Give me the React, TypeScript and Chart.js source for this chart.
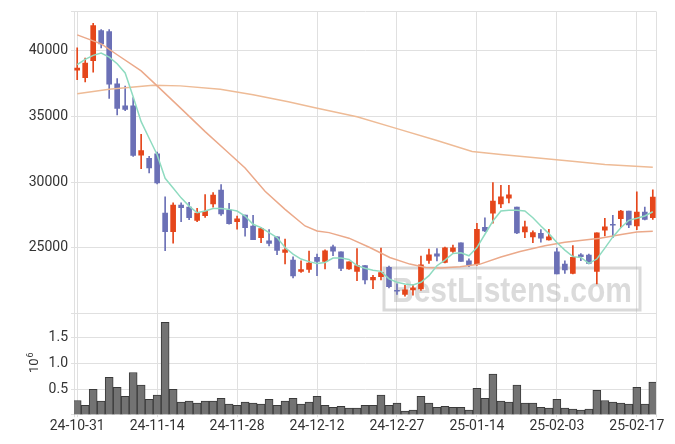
import React, { useEffect, useRef } from 'react';
import { Chart, registerables } from 'chart.js';

Chart.register(...registerables);

// x tick positions (candle index) and their labels
const tickIdx = [0, 10, 20, 30, 40, 50, 60, 70];
const tickLabels = ['24-10-31', '24-11-14', '24-11-28', '24-12-12', '24-12-27', '25-01-14', '25-02-03', '25-02-17'];

// OHLC per trading day
const openP = [38520, 37958, 39244, 41543, 41467, 37481, 35817, 35817, 32058, 31808, 32164, 27648, 26233, 28253, 28102, 27096, 27444, 28352, 29388, 27875, 26990, 27497, 26664, 25780, 25530, 25833, 24645, 24070, 23208, 23359, 24267, 23964, 25077, 24698, 23389, 23208, 23639, 22557, 22807, 23510, 21770, 21446, 21800, 21877, 24040, 24547, 23888, 24721, 25379, 24017, 23714, 26566, 27648, 28351, 28782, 28102, 26210, 25833, 26112, 25606, 24698, 23767, 23056, 24470, 24448, 23208, 26339, 26794, 27217, 27800, 26664, 27724, 27293];
const highP = [40227, 39448, 42095, 41619, 41619, 37882, 37307, 36445, 33646, 31960, 32285, 28881, 28427, 28427, 28457, 28003, 29063, 29213, 29819, 28381, 27421, 27497, 27474, 26536, 26385, 25833, 25659, 24320, 24017, 24751, 24524, 24849, 25205, 24698, 23942, 24948, 23639, 22905, 24978, 23616, 22254, 22149, 22179, 24373, 24902, 24948, 25053, 25205, 25379, 24168, 26869, 27292, 29970, 29766, 29766, 28102, 27043, 26286, 26385, 26415, 24978, 24017, 25174, 24570, 24524, 26135, 27246, 27474, 27852, 27800, 29259, 28102, 29410];
const lowP = [37806, 37632, 38366, 40227, 36369, 35114, 35439, 31960, 31029, 30696, 29864, 24774, 25356, 26990, 27141, 26990, 27322, 28102, 27474, 26793, 26415, 25886, 25628, 25401, 25152, 24471, 23768, 22708, 23132, 23132, 22882, 23389, 24395, 23261, 23359, 22504, 22254, 21899, 22557, 21951, 21446, 21317, 21392, 21748, 23812, 23996, 23842, 24645, 23964, 23563, 23661, 26233, 26869, 28049, 28427, 26082, 25780, 25401, 25432, 25583, 23010, 23056, 23010, 24017, 23767, 22254, 25909, 25780, 26536, 26536, 26385, 27119, 27170];
const closeP = [38690, 39070, 41921, 40530, 37458, 35613, 35537, 32035, 32413, 31075, 29940, 26233, 28253, 28049, 27292, 27648, 27777, 29010, 27572, 26839, 27217, 26536, 25628, 26460, 25326, 24797, 24849, 22860, 23336, 23844, 23964, 24774, 24751, 23434, 23942, 23639, 22557, 22754, 23109, 22050, 21695, 21800, 21952, 23714, 24470, 24373, 25000, 25000, 23964, 23714, 26415, 26286, 28556, 28881, 29032, 26135, 26589, 26158, 25734, 25833, 23010, 23314, 24267, 24320, 23812, 26135, 26589, 26720, 27800, 26740, 27724, 27170, 28858];

// volume in millions
const volume = [0.30, 0.21, 0.51, 0.29, 0.74, 0.55, 0.38, 0.83, 0.59, 0.32, 0.40, 1.78, 0.51, 0.27, 0.29, 0.25, 0.29, 0.29, 0.34, 0.23, 0.21, 0.27, 0.25, 0.23, 0.32, 0.21, 0.29, 0.34, 0.23, 0.27, 0.38, 0.21, 0.17, 0.19, 0.155, 0.155, 0.21, 0.21, 0.40, 0.21, 0.25, 0.10, 0.12, 0.38, 0.25, 0.17, 0.19, 0.17, 0.17, 0.12, 0.53, 0.34, 0.80, 0.29, 0.27, 0.59, 0.25, 0.25, 0.17, 0.155, 0.32, 0.155, 0.135, 0.12, 0.135, 0.49, 0.30, 0.27, 0.25, 0.23, 0.55, 0.23, 0.65];

// short moving average (one value per candle)
const maShort = [38941, 39349, 39652, 39826, 39523, 39017, 38313, 36498, 34607, 33344, 32089, 30290, 29562, 28805, 28177, 27671, 27800, 27990, 28003, 27928, 27800, 27421, 26794, 26536, 26158, 25780, 25023, 24524, 24146, 23950, 23813, 23888, 24222, 24222, 24116, 23640, 23450, 23290, 23208, 22633, 22376, 22254, 22179, 22376, 22882, 23640, 24070, 24570, 24620, 24395, 25023, 26033, 27043, 27800, 27852, 27852, 27800, 27292, 26665, 26082, 25401, 24827, 24330, 24267, 23813, 24146, 24978, 25833, 26536, 27094, 27246, 27421, 27747];

// medium moving average, read at these positions
const maMidIdx = [0, 3, 5, 8, 10, 13, 16, 18.5, 21, 23.5, 26, 28.5, 30, 31.5, 34, 36.6, 39.1, 41.6, 43.6, 45.5, 47.9, 50.4, 53, 55.4, 58.5, 61, 65.4, 68.25, 70, 72];
const maMidVal = [41210, 40530, 39700, 38470, 37330, 35600, 33850, 32466, 31075, 29312, 27928, 26665, 26286, 26158, 25734, 25023, 24267, 23762, 23510, 23465, 23560, 23762, 24300, 24720, 25152, 25430, 25734, 26033, 26210, 26270];

// long moving average, read at these positions
const maLongIdx = [0, 4, 9.5, 12.9, 17.9, 22, 26.4, 29.75, 35, 40, 45, 49.4, 53, 57, 62.25, 66, 72];
const maLongVal = [36725, 37080, 37383, 37330, 37080, 36650, 36120, 35666, 34978, 34076, 33170, 32340, 32110, 31885, 31576, 31350, 31140];

const UP = '#e5461b';
const DOWN = '#6b70b6';
const GRID = '#e0e0e0';
const TEXT = '#333';

export default function App() {
  const ref = useRef<HTMLCanvasElement>(null);

  useEffect(() => {
    if (!ref.current) return;
    const colors = openP.map((o, i) => (closeP[i] >= o ? UP : DOWN));
    const bodies = openP.map((o, i) => ({ x: i, y: [o, closeP[i]] }));
    const wicks = lowP.map((l, i) => ({ x: i, y: [l, highP[i]] }));
    const vols = volume.map((v, i) => ({ x: i, y: v }));
    const shortPts = maShort.map((v, i) => ({ x: i, y: v }));
    const midPts = maMidIdx.map((x, i) => ({ x, y: maMidVal[i] }));
    const longPts = maLongIdx.map((x, i) => ({ x, y: maLongVal[i] }));

    const watermark = {
      id: 'watermark',
      beforeDatasetsDraw(chart: any) {
        const ctx = chart.ctx;
        ctx.save();
        ctx.strokeStyle = 'rgba(170,170,170,0.45)';
        ctx.lineWidth = 3;
        ctx.strokeRect(384, 268, 256, 42);
        ctx.font = 'bold 35px "Liberation Sans", Arial, sans-serif';
        const txt = 'BestListens.com';
        const w = ctx.measureText(txt).width;
        const target = 240;
        ctx.translate(512, 302);
        ctx.scale(target / w, 1);
        ctx.fillStyle = 'rgba(165,165,165,0.4)';
        ctx.textAlign = 'center';
        ctx.textBaseline = 'alphabetic';
        ctx.fillText(txt, 0, 0);
        ctx.restore();
      },
    };

    const volTitle = {
      id: 'volTitle',
      afterDraw(chart: any) {
        const ctx = chart.ctx;
        ctx.save();
        ctx.translate(38, 373);
        ctx.rotate(-Math.PI / 2);
        ctx.fillStyle = TEXT;
        ctx.textAlign = 'left';
        ctx.textBaseline = 'alphabetic';
        ctx.font = '13px Roboto';
        ctx.fillText('10', 0, 0);
        const w = ctx.measureText('10').width;
        ctx.font = '9px Roboto';
        ctx.fillText('6', w + 1, -5);
        ctx.restore();
      },
    };

    const tickFont = { family: 'Roboto', size: 14 };

    const chart = new Chart(ref.current, {
      type: 'bar',
      data: {
        datasets: [
          { type: 'line', data: shortPts, yAxisID: 'y', borderColor: '#8fdbc0', borderWidth: 1.5, pointRadius: 0, tension: 0 } as any,
          { type: 'line', data: midPts, yAxisID: 'y', borderColor: '#eba98a', borderWidth: 1.5, pointRadius: 0, tension: 0 } as any,
          { type: 'line', data: longPts, yAxisID: 'y', borderColor: '#eebb96', borderWidth: 1.5, pointRadius: 0, tension: 0 } as any,
          { type: 'bar', data: bodies, yAxisID: 'y', backgroundColor: colors, borderWidth: 0, barThickness: 5, grouped: false } as any,
          { type: 'bar', data: wicks, yAxisID: 'y', backgroundColor: colors, borderWidth: 0, barThickness: 1, grouped: false } as any,
          { type: 'bar', data: vols, yAxisID: 'yVol', backgroundColor: '#737373', borderColor: '#3a3a3a', borderWidth: 1, barThickness: 8, grouped: false } as any,
        ],
      },
      options: {
        animation: false,
        responsive: true,
        maintainAspectRatio: false,
        layout: { padding: { left: 28, right: 19, top: 9, bottom: 8 } },
        plugins: { legend: { display: false }, tooltip: { enabled: false } },
        scales: {
          x: {
            type: 'linear',
            min: -0.4,
            max: 72.4,
            offset: false,
            grid: { color: GRID, offset: false, tickLength: 3 },
            border: { color: GRID },
            afterBuildTicks: (s: any) => {
              s.ticks = [-0.4, ...tickIdx, 72.4].map((v) => ({ value: v }));
            },
            ticks: {
              autoSkip: false,
              maxRotation: 0,
              minRotation: 0,
              padding: 1,
              color: TEXT,
              font: tickFont,
              callback: (v: any) => {
                const k = tickIdx.indexOf(v);
                return k >= 0 ? tickLabels[k] : '';
              },
            },
          },
          yVol: {
            type: 'linear',
            position: 'left',
            stack: 'panels',
            stackWeight: 1,
            min: 0.04,
            max: 1.946,
            grid: { color: GRID, tickLength: 3 },
            border: { color: GRID },
            afterBuildTicks: (s: any) => {
              s.ticks = [0.04, 0.5, 1, 1.5, 1.946].map((v) => ({ value: v }));
            },
            afterFit: (s: any) => {
              s.width = 46;
            },
            ticks: {
              autoSkip: false,
              padding: 3,
              color: TEXT,
              font: tickFont,
              callback: (v: any) => ([0.5, 1, 1.5].includes(v) ? Number(v).toFixed(1) : ''),
            },
          },
          y: {
            type: 'linear',
            position: 'left',
            stack: 'panels',
            stackWeight: 3,
            min: 20000,
            max: 43000,
            grid: { color: GRID, tickLength: 3 },
            border: { color: GRID },
            afterBuildTicks: (s: any) => {
              s.ticks = [20000, 25000, 30000, 35000, 40000, 43000].map((v) => ({ value: v }));
            },
            afterFit: (s: any) => {
              s.width = 46;
            },
            ticks: {
              autoSkip: false,
              padding: 3,
              color: TEXT,
              font: tickFont,
              callback: (v: any) => (v > 20000 && v < 43000 ? String(v) : ''),
            },
          },
        },
      } as any,
      plugins: [watermark, volTitle],
    });
    return () => chart.destroy();
  }, []);

  return (
    <div style={{ position: 'absolute', left: 0, top: 0, width: 675, height: 444 }}>
      <canvas ref={ref} />
    </div>
  );
}
